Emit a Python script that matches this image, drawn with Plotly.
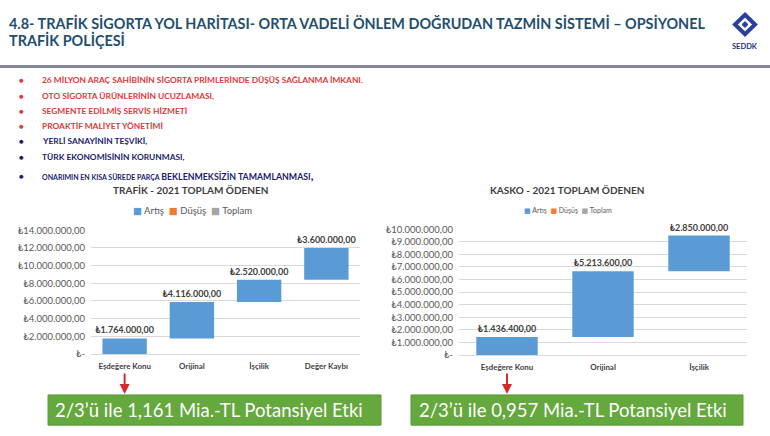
import plotly.graph_objects as go

W, H = 770, 436

# ---------------- data ----------------
trafik_cats = ["Eşdeğere Konu", "Orijinal", "İşçilik", "Değer Kaybı"]
trafik_vals = [1764000, 4116000, 2520000, 3600000]
trafik_ticks = [0, 2000000, 4000000, 6000000, 8000000, 10000000, 12000000, 14000000]

kasko_cats = ["Eşdeğere Konu", "Orijinal", "İşçilik"]
kasko_vals = [1436400, 5213600, 2850000]
kasko_ticks = [0, 1000000, 2000000, 3000000, 4000000, 5000000, 6000000,
               7000000, 8000000, 9000000, 10000000]

legend_names = ["Artış", "Düşüş", "Toplam"]
legend_colors = ["#5b9bd5", "#ed7d31", "#a5a5a5"]

red_bullets = [
    "26 MİLYON ARAÇ SAHİBİNİN SİGORTA PRİMLERİNDE DÜŞÜŞ SAĞLANMA İMKANI.",
    "OTO SİGORTA ÜRÜNLERİNİN UCUZLAMASI,",
    "SEGMENTE EDİLMİŞ SERVİS HİZMETİ",
    "PROAKTİF MALİYET YÖNETİMİ",
]
blue_bullets = [
    "YERLİ SANAYİNİN TEŞVİKİ,",
    "TÜRK EKONOMİSİNİN KORUNMASI,",
]
last_bullet_small = "ONARIMIN EN KISA SÜREDE PARÇA"
last_bullet_big = "BEKLENMEKSİZİN TAMAMLANMASI"

box_texts = ["2/3’ü ile 1,161 Mia.-TL Potansiyel Etki",
             "2/3’ü ile 0,957 Mia.-TL Potansiyel Etki"]


def tl(v):
    if v == 0:
        return "₺-"
    s = f"{v:,.2f}"
    s = s.replace(",", "X").replace(".", ",").replace("X", ".")
    return "₺" + s


def px(x):
    return x / W


def py(y):
    return 1 - y / H


FONT = "Lato, 'Open Sans', 'DejaVu Sans', sans-serif"
BLUE = "#5b9bd5"
TXT = "#595959"
DARK = "#404040"

fig = go.Figure()

fig.add_trace(go.Waterfall(
    x=trafik_cats, y=trafik_vals, measure=["relative"] * len(trafik_vals),
    increasing=dict(marker=dict(color=BLUE)),
    connector=dict(visible=False),
    text=[tl(v) for v in trafik_vals], textposition="outside",
    constraintext="none",
    textfont=dict(family=FONT, size=9, color=DARK, weight="bold"),
    cliponaxis=False, width=0.66, hoverinfo="skip",
    xaxis="x", yaxis="y", showlegend=False,
))

fig.add_trace(go.Waterfall(
    x=kasko_cats, y=kasko_vals, measure=["relative"] * len(kasko_vals),
    increasing=dict(marker=dict(color=BLUE)),
    connector=dict(visible=False),
    text=[tl(v) for v in kasko_vals], textposition="outside",
    constraintext="none",
    textfont=dict(family=FONT, size=9, color=DARK, weight="bold"),
    cliponaxis=False, width=0.64, hoverinfo="skip",
    xaxis="x2", yaxis="y2", showlegend=False,
))

axis_common = dict(showgrid=True, gridcolor="#d9d9d9", gridwidth=1,
                   zeroline=False, ticks="", fixedrange=True)

fig.update_layout(
    width=W, height=H,
    margin=dict(l=0, r=0, t=0, b=0),
    paper_bgcolor="white", plot_bgcolor="white",
    font=dict(family=FONT, color=TXT),
    showlegend=False,
    xaxis=dict(domain=[px(91), px(360)], anchor="y", showgrid=False,
               showline=True, linecolor="#d9d9d9", ticks="", fixedrange=True,
               tickfont=dict(family=FONT, size=7.9, color=DARK, weight="bold"),
               ticklabelstandoff=5),
    yaxis=dict(domain=[py(357), py(230)], anchor="x", range=[0, 14000000],
               tickvals=trafik_ticks, ticktext=[tl(v) for v in trafik_ticks],
               tickfont=dict(family=FONT, size=9.5, color=TXT),
               ticklabelstandoff=5, **axis_common),
    xaxis2=dict(domain=[px(459), px(747)], anchor="y2", showgrid=False,
                showline=True, linecolor="#d9d9d9", ticks="", fixedrange=True,
                tickfont=dict(family=FONT, size=7.9, color=DARK, weight="bold"),
                ticklabelstandoff=5),
    yaxis2=dict(domain=[py(358), py(229)], anchor="x2", range=[0, 10000000],
                tickvals=kasko_ticks, ticktext=[tl(v) for v in kasko_ticks],
                tickfont=dict(family=FONT, size=9.5, color=TXT),
                ticklabelstandoff=5, **axis_common),
)

ann = []
shapes = []


def note(x, y, text, font, xanchor="center", yanchor="middle", **kw):
    d = dict(x=px(x), y=py(y), xref="paper", yref="paper", xanchor=xanchor,
             yanchor=yanchor, showarrow=False, text=text, font=font)
    d.update(kw)
    ann.append(d)


# Title
TITLE_FONT = dict(family=FONT, size=14.4, color="#1f4e6e", weight="bold")
note(7, 17, "4.8- TRAFİK SİGORTA YOL HARİTASI- ORTA VADELİ ÖNLEM DOĞRUDAN TAZMİN SİSTEMİ – OPSİYONEL",
     TITLE_FONT, xanchor="left")
note(7, 35, "TRAFİK POLİÇESİ", TITLE_FONT, xanchor="left")

# separator line
shapes.append(dict(type="line", xref="paper", yref="paper", x0=0, x1=1,
                   y0=py(62), y1=py(62), layer="above",
                   line=dict(color="#85859a", width=3)))

# logo
cx, cy, r = 745, 19, 10
shapes.append(dict(type="path", xref="paper", yref="paper",
                   path=f"M {px(cx)} {py(cy - r)} L {px(cx + r)} {py(cy)} L {px(cx)} {py(cy + r)} L {px(cx - r)} {py(cy)} Z",
                   line=dict(color="#2c3e9c", width=4), fillcolor="rgba(0,0,0,0)"))
shapes.append(dict(type="path", xref="paper", yref="paper",
                   path=f"M {px(cx)} {py(cy - 3)} L {px(cx + 3)} {py(cy)} L {px(cx)} {py(cy + 3)} L {px(cx - 3)} {py(cy)} Z",
                   line=dict(color="#2c3e9c", width=1), fillcolor="#2c3e9c"))
note(745, 42, "SEDDK", dict(family=FONT, size=7.5, color="#1f2f80", weight="bold"))

# bullets
RED, NAVY = "#d93a3a", "#1c1c6e"
bullet_y = [76, 92, 108, 123, 139, 155]
items = [(t, RED) for t in red_bullets] + [(t, NAVY) for t in blue_bullets]
for (t, c), yy in zip(items, bullet_y):
    note(21, yy, "●", dict(size=8, color=c))
    note(40, yy, t, dict(family=FONT, size=8.4, color=c, weight="bold"), xanchor="left")
note(21, 174, "●", dict(size=8, color=NAVY))
note(40, 174,
     f"<span style='font-size:7px'>{last_bullet_small} </span>{last_bullet_big}<span style='font-size:12px'>,</span>",
     dict(family=FONT, size=8.8, color=NAVY, weight="bold"), xanchor="left")

# chart titles
CT_FONT = dict(family=FONT, size=10, color=DARK, weight="bold")
note(190, 189, "TRAFİK - 2021 TOPLAM ÖDENEN", CT_FONT)
note(567, 189, "KASKO - 2021 TOPLAM ÖDENEN", CT_FONT)


def legend_text(gap):
    parts = [f"<span style='color:{c}'>■</span> {n}" for n, c in zip(legend_names, legend_colors)]
    return gap.join(parts)


note(192, 210, legend_text("  "), dict(family=FONT, size=9.5, color=TXT))
note(568, 209, legend_text("  "), dict(family=FONT, size=7, color=TXT))

# arrows
ann.append(dict(x=trafik_cats[0], y=py(398), xref="x", yref="paper", showarrow=True,
                ax=0, ay=-22, arrowhead=2, arrowsize=1, arrowwidth=2,
                arrowcolor="#d42a2a", text=""))
ann.append(dict(x=kasko_cats[0], y=py(398), xref="x2", yref="paper", showarrow=True,
                ax=0, ay=-22, arrowhead=2, arrowsize=1, arrowwidth=2,
                arrowcolor="#d42a2a", text=""))

# green boxes
for (x0, x1, tx), t in zip([(48, 381, 53), (411, 743, 417)], box_texts):
    shapes.append(dict(type="rect", xref="paper", yref="paper",
                       x0=px(x0), x1=px(x1), y0=py(430), y1=py(399),
                       fillcolor="#64a83e", line=dict(color="#5a9a36", width=1)))
    note(tx, 414.5, t, dict(family=FONT, size=18.5, color="white"), xanchor="left")

fig.update_layout(annotations=ann, shapes=shapes)

fig.write_html("out.html", config={"displayModeBar": False},
               post_script="document.body.style.margin='0';document.body.style.overflow='hidden';")
